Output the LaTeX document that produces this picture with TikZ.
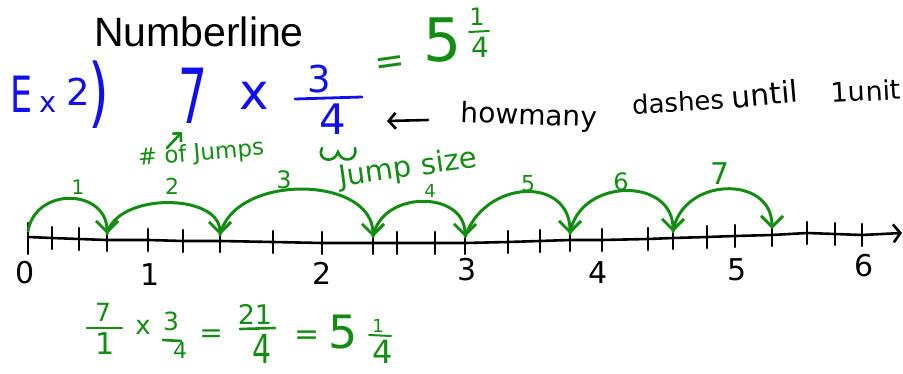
\documentclass[tikz,border=0pt]{standalone}
\usepackage{fontspec}
\setmainfont{DejaVu Sans}
\newfontfamily\titlefont{Liberation Sans}
\usetikzlibrary{arrows.meta}
\definecolor{hwgreen}{RGB}{20,140,20}
\definecolor{hwblue}{RGB}{15,15,240}
\newcommand\fsz[1]{\fontsize{#1}{#1}\selectfont}
\begin{document}
\begin{tikzpicture}[x=1pt,y=-1pt,
  hw/.style={inner sep=0pt, outer sep=0pt},
  gtxt/.style={hw, text=hwgreen},
  btxt/.style={hw, text=hwblue},
  ktxt/.style={hw, text=black},
  numline/.style={line width=2.6pt, line cap=round, line join=round},
  tickmark/.style={line width=2.4pt, line cap=round},
  jumparc/.style={draw=hwgreen, line width=3pt, line cap=round,
     -{Straight Barb[length=11pt,width=22pt]}},
  gbar/.style={draw=hwgreen, line width=2.6pt, line cap=round},
  bbar/.style={draw=hwblue, line width=2.8pt, line cap=round},
]
\useasboundingbox (0,0) rectangle (903,374);

% title
\node[ktxt, font={\titlefont\fsz{41}}] (title) at (199,32) {Numberline};

% Ex2)
\node[btxt, font=\fsz{50}] (exE) at (22,94) {\scalebox{0.7}[1]{E}};
\node[btxt, font=\fsz{29}] (exx) at (48,105) {x};
\node[btxt, font=\fsz{37}] (ex2) at (78,92) {2};
\node[btxt, font=\fsz{76}] (expar) at (99,95) {\scalebox{0.7}[1]{)}};

% 7 x 3/4
\node[btxt, font=\fsz{76}] (seven) at (193,96) {\scalebox{0.6}[1]{7}};
\node[btxt, font=\fsz{50}] (times) at (254,96) {x};
\node[btxt, font=\fsz{37}] (bnum) at (319,79) {3};
\node[btxt, font=\fsz{42}] (bden) at (333,119) {4};
\coordinate (bbarL) at (295,99);
\coordinate (bbarR) at (362,97);
\draw[bbar] (bbarL) -- (bbarR);

% = 5 1/4 (top)
\node[gtxt, font=\fsz{36}] (teq) at (390,65) {\rotatebox{8}{=}};
\node[gtxt, font=\fsz{60}] (tfive) at (443,40) {5};
\node[gtxt, font=\fsz{24}] (tone) at (477,17) {1};
\node[gtxt, font=\fsz{28}] (tfour) at (480,47) {4};
\coordinate (tbarL) at (469,32);
\coordinate (tbarR) at (489,31);
\draw[gbar, line width=2pt] (tbarL) -- (tbarR);

% note
\coordinate (arrR) at (428,120);
\coordinate (arrL) at (387,121);
\draw[line width=2.6pt, line cap=round, -{Straight Barb[length=7pt,width=16pt]}] (arrR) -- (arrL);
\node[ktxt, font=\fsz{28}] (w1) at (529,117) {\rotatebox{-2}{howmany}};
\node[ktxt, font=\fsz{26}] (w2) at (678,102) {\rotatebox{3}{dashes}};
\node[ktxt, font=\fsz{30}] (w3) at (765,94) {\rotatebox{5}{until}};
\node[ktxt, font=\fsz{27}] (w4) at (866,91) {\rotatebox{3}{1unit}};

% # of jumps, jump size
\node[gtxt, font=\fsz{23}] (nj) at (201,154) {\rotatebox{5}{\# of Jumps}};
\coordinate (njA) at (167,148);
\coordinate (njB) at (182,132);
\draw[draw=hwgreen, line width=2.6pt, line cap=round, -{Straight Barb[length=6pt,width=12pt]}] (njA) -- (njB);
\node[gtxt, font=\fsz{29}] (js) at (408,169) {\rotatebox{8}{Jump size}};
\draw[draw=hwgreen, line width=2.6pt, line cap=round]
  (322,148) .. controls (316,160) and (334,165) .. (338,152)
  .. controls (341,163) and (358,162) .. (355,148);

% number line
\foreach \i/\x/\y in {0/28/237,1/52/238,2/79/239,3/107/240,4/148/240,5/183/241,6/220/241,
   7/273/242,8/322/243,9/373/243,10/397/243,11/435/243,12/465/243,13/508/242,14/540/241,
   15/570/240,16/602/240,17/648/239,18/673/238,19/707/237,20/735/236,21/772/235,
   22/807/233,23/835/234,24/862/235}
  \coordinate (t\i) at (\x,\y);
\coordinate (lend) at (902,233);
\draw[numline, -{Straight Barb[length=7pt,width=18pt]}] (t0) \foreach \i in {1,...,24}{ -- (t\i)} -- (lend);
\foreach \i in {1,...,24}
  \draw[tickmark] ([yshift=11pt]t\i) -- ([yshift=-11pt]t\i);
\draw[tickmark] ([yshift=14pt]t0) -- ([yshift=-17pt]t0);

% number labels
\foreach \n/\x/\y in {0/25/273,1/150/275,2/322/273,3/467/270,4/598/273,5/737/270,6/864/266}
  \node[ktxt, font=\fsz{30}] (n\n) at (\x,\y) {\n};

% jumps
\foreach \a/\b/\h/\da/\db in {0/3/45/8/0, 3/6/42/10/0, 6/9/62/14/0, 9/12/47/8/0,
   12/15/58/20/0, 15/18/56/8/0, 18/21/55/8/0}
  \draw[jumparc] ([yshift=6pt]t\a) .. controls +(\da,-\h) and +(\db,-\h) .. ([yshift=6pt]t\b);

\foreach \n/\x/\y/\s in {1/78/187/20, 2/172/186/22, 3/284/180/24, 4/430/191/18,
   5/528/184/22, 6/621/182/24, 7/720/174/30}
  \node[gtxt, font=\fsz{\s}] (j\n) at (\x,\y) {\n};

% bottom equation
\node[gtxt, font=\fsz{25}] (e7) at (103,312) {7};
\node[gtxt, font=\fsz{30}] (e1) at (105,344) {1};
\draw[gbar] (87,328) -- (122,328);
\node[gtxt, font=\fsz{26}] (ex) at (143,327) {x};
\node[gtxt, font=\fsz{25}] (e3) at (171,321) {3};
\node[gtxt, font=\fsz{22}] (e4) at (180,350) {4};
\draw[gbar] (163,340) -- (181,341);
\node[gtxt, font=\fsz{28}] (eq1) at (211,336) {=};
\node[gtxt, font=\fsz{27}] (e21) at (255,314) {21};
\draw[gbar] (240,329) -- (275,328);
\node[gtxt, font=\fsz{40}] (e4b) at (262,349) {\scalebox{0.75}[1]{4}};
\node[gtxt, font=\fsz{30}] (eq2) at (307,338) {=};
\node[gtxt, font=\fsz{46}] (e5) at (343,332) {5};
\node[gtxt, font=\fsz{18}] (e1b) at (378,326) {1};
\draw[gbar, line width=2pt] (369,335) -- (391,336);
\node[gtxt, font=\fsz{32}] (e4c) at (383,352) {4};
\end{tikzpicture}
\end{document}
